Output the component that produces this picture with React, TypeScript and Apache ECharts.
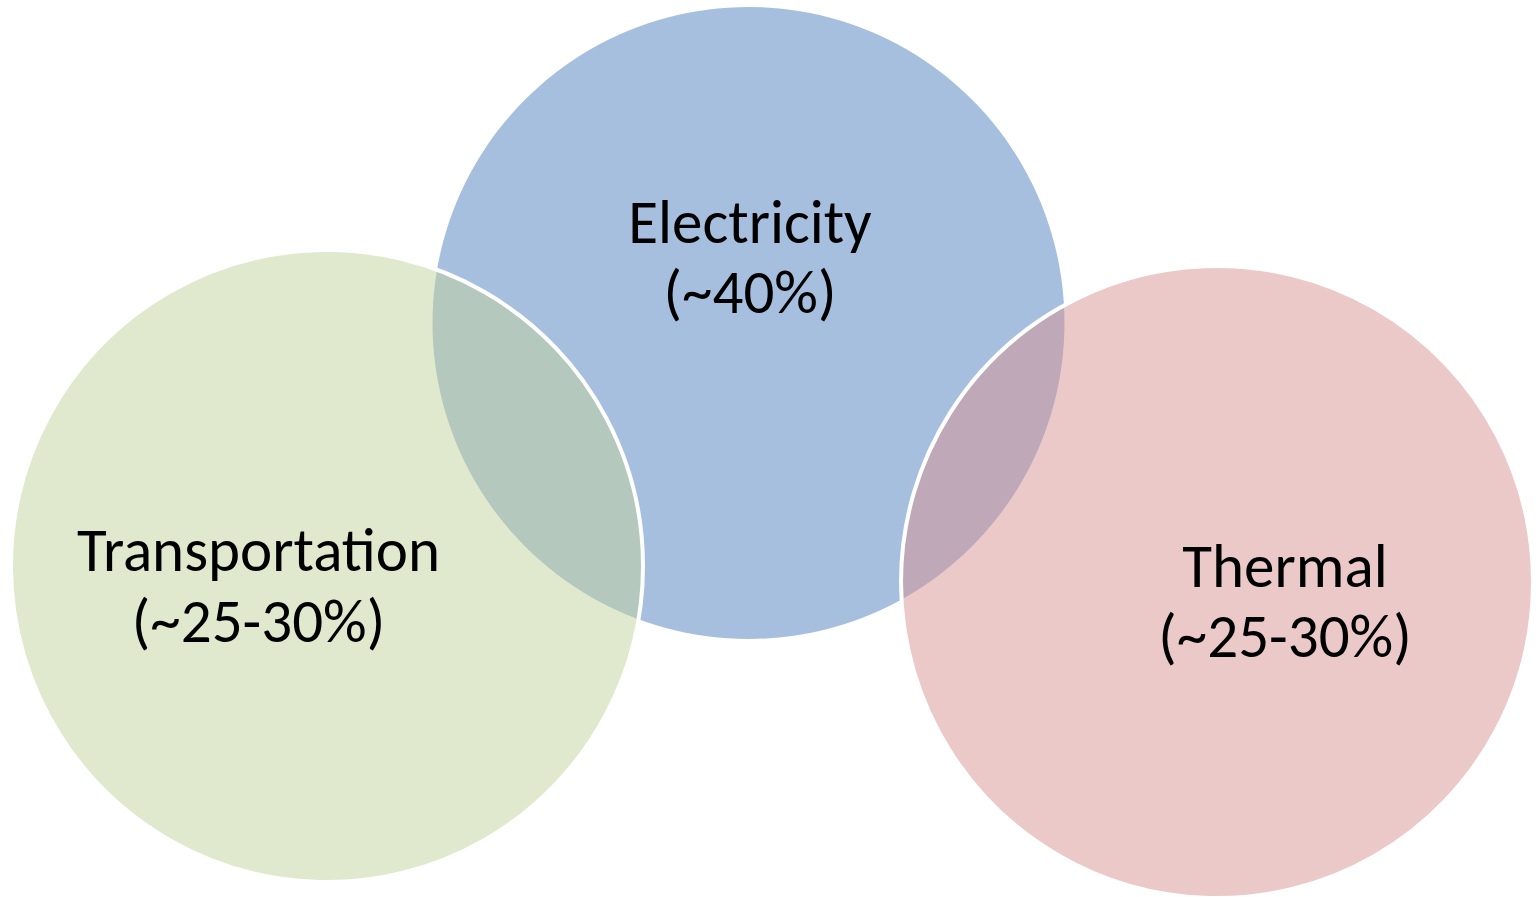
import { useEffect, useRef } from 'react';
import * as echarts from 'echarts';

// Energy-use sectors and their approximate shares
const sectors = ['Electricity', 'Transportation', 'Thermal'];
const shareLow = [40, 25, 25];
const shareHigh = [40, 30, 30];

const shareLabels = sectors.map((_, i) =>
  shareLow[i] === shareHigh[i]
    ? `(~${shareLow[i]}%)`
    : `(~${shareLow[i]}-${shareHigh[i]}%)`
);

// Diagram space (one unit per pixel of the canvas)
const WIDTH = 1538;
const HEIGHT = 897;

// Circle placement, drawn in this order (later circles sit on top)
const circleLayout = [
  { cx: 748.5, cy: 323, r: 316 },
  { cx: 327, cy: 566, r: 316 },
  { cx: 1217, cy: 582, r: 316 },
];

// Centre lines of the two text rows in each circle
const labelLayout = [
  { x: 750, y1: 222, y2: 292 },
  { x: 258.5, y1: 550, y2: 621 },
  { x: 1285, y1: 566, y2: 636 },
];

const fills = ['#A7BFDE', 'rgba(193,209,155,0.5)', 'rgba(215,147,147,0.5)'];
const strokes = ['none', '#ffffff', '#ffffff'];

const FONT = "Carlito, Lato, 'Noto Sans', sans-serif";
const FONT_SIZE = 61;

export default function App() {
  const ref = useRef<HTMLDivElement>(null);

  useEffect(() => {
    document.body.style.margin = '0';
    if (!ref.current) return;
    const chart = echarts.init(ref.current, undefined, { renderer: 'svg' });

    const data = sectors.map((name, i) => ({
      name,
      value: [circleLayout[i].cx, circleLayout[i].cy, circleLayout[i].r, i],
    }));

    chart.setOption({
      animation: false,
      backgroundColor: '#ffffff',
      grid: { left: 0, right: 0, top: 0, bottom: 0 },
      xAxis: { type: 'value', min: 0, max: WIDTH, show: false },
      yAxis: { type: 'value', min: 0, max: HEIGHT, inverse: true, show: false },
      series: [
        {
          type: 'custom',
          coordinateSystem: 'cartesian2d',
          data,
          clip: false,
          renderItem: (_params: any, api: any) => {
            const i = api.value(3) as number;
            const c = api.coord([api.value(0), api.value(1)]);
            const r = api.size([api.value(2), 0])[0];
            const lab = labelLayout[i];
            const p1 = api.coord([lab.x, lab.y1]);
            const p2 = api.coord([lab.x, lab.y2]);
            const textStyle = {
              fill: '#000000',
              fontFamily: FONT,
              fontSize: FONT_SIZE,
              align: 'center',
              verticalAlign: 'middle',
            };
            return {
              type: 'group',
              children: [
                {
                  type: 'circle',
                  shape: { cx: c[0], cy: c[1], r },
                  style: {
                    fill: fills[i],
                    stroke: strokes[i],
                    lineWidth: strokes[i] === 'none' ? 0 : 4,
                  },
                },
                {
                  type: 'text',
                  x: p1[0],
                  y: p1[1],
                  style: { ...textStyle, text: sectors[i] },
                },
                {
                  type: 'text',
                  x: p2[0],
                  y: p2[1],
                  style: { ...textStyle, text: shareLabels[i] },
                },
              ],
            };
          },
        },
      ],
    });

    return () => chart.dispose();
  }, []);

  return <div ref={ref} style={{ width: WIDTH, height: HEIGHT }} />;
}
